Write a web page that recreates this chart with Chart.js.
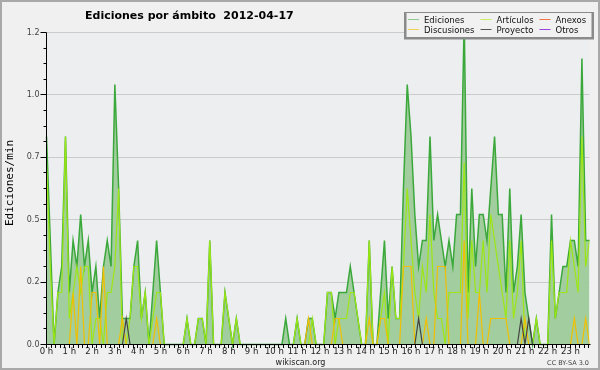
<!DOCTYPE html>
<html><head><meta charset="utf-8">
<script src="https://cdn.jsdelivr.net/npm/chart.js@4/dist/chart.umd.min.js"></script>
<style>html,body{margin:0;padding:0;background:#f0f0f0}#wrap{width:600px;height:370px;position:relative}</style>
</head><body><div id="wrap"><canvas id="c" width="600" height="370"></canvas></div>
<script>
const TITLE = 'Ediciones por ámbito  2012-04-17';
const Y_TITLE = 'Ediciones/min';
const FOOTER = 'wikiscan.org';
const LICENSE = 'CC BY-SA 3.0';
const HOUR_LABELS = ['0 h','1 h','2 h','3 h','4 h','5 h','6 h','7 h','8 h','9 h','10 h','11 h','12 h','13 h','14 h','15 h','16 h','17 h','18 h','19 h','20 h','21 h','22 h','23 h'];
const Y_TICK_VALUES = [0, 0.24, 0.48, 0.72, 0.96, 1.2];
const Y_TICK_LABELS = ['0.0','0.2','0.5','0.7','1.0','1.2'];
// one value per 10-minute slot, 00:00 .. 23:50 (edits per minute)
const EDICIONES = [
 0.8,0.4,0,0.2,0.3,0.8, 0.2,0.4,0.3,0.5,0.3,0.4,
 0.2,0.3,0.1,0.3,0.4,0.3, 1.0,0.6,0.1,0.1,0.1,0.3,
 0.4,0.1,0.2,0,0.2,0.4, 0.2,0,0,0,0,0,
 0,0.1,0,0,0.1,0.1, 0,0.4,0,0,0,0.2,
 0.1,0,0.1,0,0,0, 0,0,0,0,0,0,
 0,0,0,0.1,0,0, 0.1,0,0,0.1,0.1,0,
 0,0,0.2,0.2,0.1,0.2, 0.2,0.2,0.3,0.2,0.1,0,
 0,0.4,0,0,0.2,0.4, 0.1,0.3,0.1,0.1,0.6,1.0,
 0.8,0.5,0.3,0.4,0.4,0.8, 0.4,0.5,0.4,0.3,0.4,0.3,
 0.5,0.5,1.25,0.2,0.6,0.3, 0.5,0.5,0.4,0.6,0.8,0.5,
 0.5,0.2,0.6,0.2,0.3,0.5, 0.2,0.1,0,0.1,0,0,
 0,0.5,0.1,0.2,0.3,0.3, 0.4,0.4,0.3,1.1,0.4,0.4
];
const ARTICULOS = [
 0.7,0.3,0,0.2,0.2,0.8, 0.1,0.2,0.3,0.2,0.3,0.3,
 0,0.1,0.1,0,0.2,0.2, 0.3,0.6,0,0,0.1,0.3,
 0.3,0.1,0.2,0,0.1,0.2, 0.2,0,0,0,0,0,
 0,0.1,0,0,0.1,0.1, 0,0.4,0,0,0,0.2,
 0.1,0,0.1,0,0,0, 0,0,0,0,0,0,
 0,0,0,0,0,0, 0.1,0,0,0,0.1,0,
 0,0,0.2,0.2,0,0.1, 0.1,0.1,0.2,0.2,0.1,0,
 0,0.4,0,0,0.1,0.2, 0,0.3,0.1,0.1,0.3,0.6,
 0.4,0.2,0.1,0.3,0.2,0.5, 0.2,0.1,0.1,0,0.2,0.2,
 0.2,0.2,0.7,0.1,0.4,0.2, 0.2,0.4,0.2,0.5,0.4,0.3,
 0.2,0.1,0.4,0.1,0.2,0.4, 0,0,0,0.1,0,0,
 0,0.4,0.1,0.2,0.2,0.2, 0.4,0.3,0.2,0.8,0.3,0.4
];
const ANEXOS = [
 0,0,0,0,0,0, 0,0,0,0,0,0,  0,0,0,0,0,0, 0,0,0,0,0,0,
 0,0,0,0,0,0, 0,0,0,0,0,0,  0,0,0,0,0,0, 0,0,0,0,0,0,
 0,0,0,0,0,0, 0,0,0,0,0,0,  0,0,0,0,0,0, 0,0,0,0,0,0,
 0,0,0,0,0,0, 0,0,0,0,0,0,  0,0,0,0,0,0, 0,0,0,0,0,0,
 0,0,0,0,0,0, 0,0,0,0,0,0,  0,0,0,0,0,0, 0,0,0,0,0,0,
 0,0,0,0,0,0, 0,0,0,0,0,0,  0,0,0,0,0,0, 0,0,0,0,0,0
];
const DISCUSIONES = [
 0,0,0,0,0,0, 0,0.2,0,0.3,0,0,
 0.2,0.2,0,0.3,0,0, 0,0,0.1,0,0,0,
 0,0,0,0,0,0.1, 0,0,0,0,0,0,
 0,0,0,0,0,0, 0,0,0,0,0,0,
 0,0,0,0,0,0, 0,0,0,0,0,0,
 0,0,0,0,0,0, 0,0,0,0.1,0,0,
 0,0,0,0,0.1,0.1, 0,0,0,0,0,0,
 0,0.1,0,0,0.1,0.1, 0,0,0,0,0.3,0.3,
 0.3,0,0,0,0.1,0, 0,0.3,0.3,0.3,0,0,
 0,0,0.4,0,0,0, 0.2,0,0,0.1,0.1,0.1,
 0.1,0.1,0,0,0,0, 0.1,0,0,0,0,0,
 0,0,0,0,0,0, 0,0.1,0,0,0.1,0
];
const PROYECTO = [
 0,0,0,0,0,0, 0,0,0,0,0,0,
 0,0,0,0,0,0, 0,0,0,0.1,0,0,
 0,0,0,0,0,0, 0,0,0,0,0,0,
 0,0,0,0,0,0, 0,0,0,0,0,0,
 0,0,0,0,0,0, 0,0,0,0,0,0,
 0,0,0,0,0,0, 0,0,0,0,0,0,
 0,0,0,0,0,0, 0,0,0,0,0,0,
 0,0,0,0,0,0, 0,0,0,0,0,0,
 0,0,0.1,0,0,0, 0,0,0,0,0,0,
 0,0,0,0,0,0, 0,0,0,0,0,0,
 0,0,0,0,0,0.1, 0,0.1,0,0,0,0,
 0,0,0,0,0,0, 0,0,0,0,0,0
];
const OTROS = ANEXOS.slice();
const SLOTS = EDICIONES.map((_, i) => i);
const SLOTS_PER_HOUR = 6;
const MINOR_PER_HOUR = 5;
const LEGEND_ORDER = ['Ediciones','Artículos','Anexos','Discusiones','Proyecto','Otros'];

const deco = {
  id: 'deco',
  beforeDraw(chart) {
    const {ctx, chartArea: a} = chart;
    ctx.save();
    ctx.fillStyle = '#f0f0f0';
    ctx.fillRect(0, 0, chart.width, chart.height);
    ctx.fillStyle = '#edeef0';
    ctx.fillRect(a.left, a.top, a.right - a.left, a.bottom - a.top);
    ctx.restore();
  },
  afterDatasetsDraw(chart) {
    const {ctx, chartArea: a, scales: {x, y}} = chart;
    ctx.save();
    ctx.strokeStyle = '#000';
    ctx.lineWidth = 1;
    ctx.beginPath();
    ctx.moveTo(a.left, a.top); ctx.lineTo(a.left, a.bottom);
    ctx.lineTo(a.right + 1, a.bottom);
    x.ticks.forEach(t => {
      const px = Math.floor(x.getPixelForValue(t.value)) + 0.5;
      ctx.moveTo(px, a.bottom); ctx.lineTo(px, a.bottom + 3.5);
    });
    y.ticks.forEach(t => {
      const py = Math.floor(y.getPixelForValue(t.value)) + 0.5;
      ctx.moveTo(a.left - (t.major ? 6 : 3), py); ctx.lineTo(a.left, py);
    });
    ctx.stroke();
    ctx.restore();
  },
  afterDraw(chart) {
    const {ctx} = chart;
    ctx.save();
    ctx.fillStyle = '#000';
    ctx.font = 'bold 11px "DejaVu Sans"';
    ctx.textBaseline = 'alphabetic';
    ctx.textAlign = 'left';
    ctx.fillText(TITLE, 85, 18.5);
    ctx.save();
    ctx.translate(10, 183);
    ctx.rotate(-Math.PI / 2);
    ctx.font = '11px "DejaVu Sans Mono"';
    ctx.textAlign = 'center';
    ctx.textBaseline = 'middle';
    ctx.fillText(Y_TITLE, 0, 0);
    ctx.restore();
    ctx.font = '8px "DejaVu Sans"';
    ctx.fillStyle = '#222';
    ctx.textAlign = 'center';
    ctx.fillText(FOOTER, 300.5, 364.5);
    ctx.font = '6.5px "DejaVu Sans"';
    ctx.fillStyle = '#444';
    ctx.textAlign = 'right';
    ctx.fillText(LICENSE, 589, 365);
    ctx.fillStyle = '#8a8a8a';
    ctx.fillRect(404, 12, 190, 27.5);
    ctx.fillStyle = 'rgba(255,255,255,0.88)';
    ctx.fillRect(406.5, 13, 185, 24);
    ctx.font = '8.5px "DejaVu Sans"';
    ctx.textAlign = 'left';
    ctx.textBaseline = 'alphabetic';
    const colX = [408, 480.5, 539.5];
    const rowY = [19.5, 29.5];
    LEGEND_ORDER.forEach((name, k) => {
      const ds = chart.data.datasets.find(d => d.label === name);
      const cx = colX[k % 3], cy = rowY[Math.floor(k / 3)];
      ctx.strokeStyle = ds.legendColor || ds.borderColor;
      ctx.lineWidth = 1;
      ctx.beginPath(); ctx.moveTo(cx, cy); ctx.lineTo(cx + 11, cy); ctx.stroke();
      ctx.fillStyle = '#111';
      ctx.fillText(name, cx + 16, cy + 3);
    });
    ctx.strokeStyle = '#a9a9a9';
    ctx.lineWidth = 2;
    ctx.strokeRect(1, 1, chart.width - 2, chart.height - 2);
    ctx.restore();
  }
};

function lineSet(label, data, color, order, extra) {
  return Object.assign({label, data, borderColor: color, backgroundColor: color, borderWidth: 1.2,
    pointRadius: 0, tension: 0, fill: false, order}, extra || {});
}

new Chart(document.getElementById('c'), {
  type: 'line',
  data: {
    labels: SLOTS,
    datasets: [
      lineSet('Ediciones', EDICIONES, '#3aa83a', 6, {fill: 'origin', backgroundColor: '#a2cd9e', borderWidth: 1.5, clip: false, legendColor: '#8ccc8c'}),
      lineSet('Artículos', ARTICULOS, '#9ce614', 5, {legendColor: '#c8ee60'}),
      lineSet('Anexos', ANEXOS, '#ee7744', 4),
      lineSet('Discusiones', DISCUSIONES, '#f0bf00', 3, {legendColor: '#f0d050'}),
      lineSet('Proyecto', PROYECTO, '#444444', 2, {legendColor: '#555555'}),
      lineSet('Otros', OTROS, '#9944dd', 1)
    ]
  },
  options: {
    responsive: false,
    animation: false,
    devicePixelRatio: 1,
    layout: {padding: {left: 0, right: 10.5, top: 32.5, bottom: 0}},
    plugins: {legend: {display: false}, tooltip: {enabled: false}, title: {display: false}},
    scales: {
      x: {
        type: 'linear', min: 0, max: SLOTS.length - 1,
        afterFit(s) { s.height = 25.5; },
        afterBuildTicks(s) {
          const t = [];
          HOUR_LABELS.forEach((lbl, h) => {
            for (let k = 0; k < MINOR_PER_HOUR; k++) {
              t.push({value: h * SLOTS_PER_HOUR + k * SLOTS_PER_HOUR / MINOR_PER_HOUR, major: k === 0, txt: k === 0 ? lbl : ''});
            }
          });
          s.ticks = t;
        },
        grid: {display: false, drawTicks: false},
        border: {display: false},
        ticks: {autoSkip: false, maxRotation: 0, padding: 2, color: '#222',
          font: {family: 'DejaVu Sans', size: 8.5},
          callback: (v, i, ticks) => ticks[i].txt}
      },
      y: {
        min: 0, max: 1.2,
        afterFit(s) { s.width = 46.5; },
        afterBuildTicks(s) {
          const t = [];
          Y_TICK_VALUES.forEach((v, j) => {
            t.push({value: v, major: true, txt: Y_TICK_LABELS[j]});
            if (j < Y_TICK_VALUES.length - 1) {
              const step = (Y_TICK_VALUES[j + 1] - v) / 4;
              for (let k = 1; k < 4; k++) t.push({value: v + k * step, major: false, txt: ''});
            }
          });
          s.ticks = t;
        },
        grid: {drawTicks: false, lineWidth: 1, color: c => (c.tick && c.tick.major && c.tick.value > 0) ? '#cbcbcb' : 'rgba(0,0,0,0)'},
        border: {display: false},
        ticks: {autoSkip: false, padding: 7, color: '#444',
          font: {family: 'DejaVu Sans', size: 8},
          callback: (v, i, ticks) => ticks[i].txt}
      }
    }
  },
  plugins: [deco]
});
</script>
</body></html>
